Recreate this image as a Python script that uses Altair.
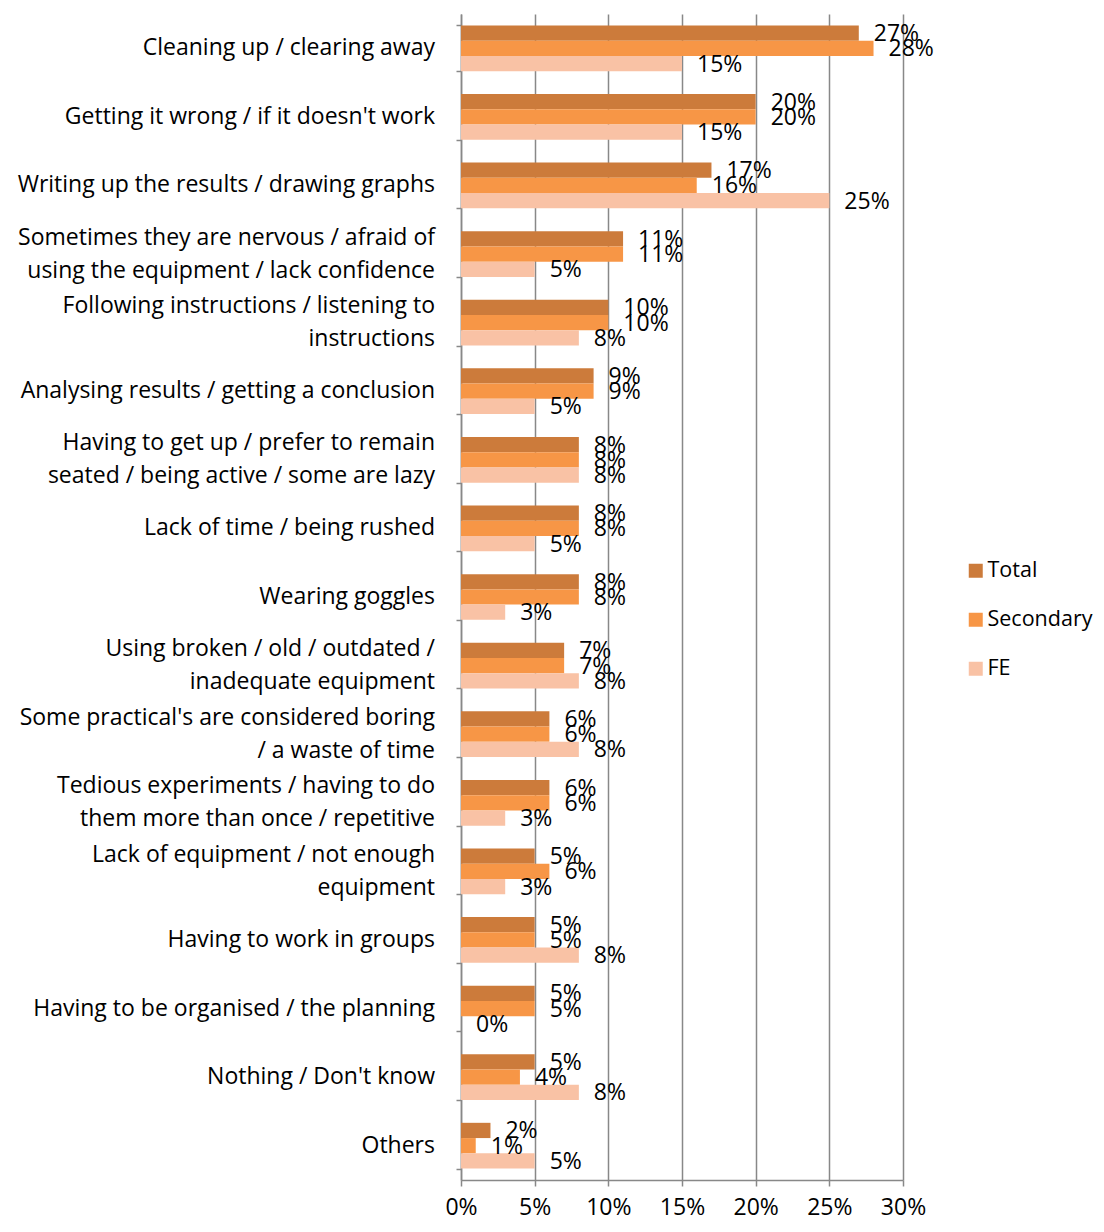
import altair as alt
import pandas as pd

categories = [
    "Cleaning up / clearing away",
    "Getting it wrong / if it doesn't work",
    "Writing up the results / drawing graphs",
    "Sometimes they are nervous / afraid of|using the equipment / lack confidence",
    "Following instructions / listening to|instructions",
    "Analysing results / getting a conclusion",
    "Having to get up / prefer to remain|seated / being active / some are lazy",
    "Lack of time / being rushed",
    "Wearing goggles",
    "Using broken / old / outdated /|inadequate equipment",
    "Some practical's are considered boring|/ a waste of time",
    "Tedious experiments / having to do|them more than once / repetitive",
    "Lack of equipment / not enough|equipment",
    "Having to work in groups",
    "Having to be organised / the planning",
    "Nothing / Don't know",
    "Others",
]
series = ["Total", "Secondary", "FE"]
total = [27, 20, 17, 11, 10, 9, 8, 8, 8, 7, 6, 6, 5, 5, 5, 5, 2]
secondary = [28, 20, 16, 11, 10, 9, 8, 8, 8, 7, 6, 6, 6, 5, 5, 4, 1]
fe = [15, 15, 25, 5, 8, 5, 8, 5, 3, 8, 8, 3, 3, 8, 0, 8, 5]
colors = ["#CC7B3B", "#F79646", "#F9C2A5"]

rows = []
for i, c in enumerate(categories):
    for s, vals in zip(series, [total, secondary, fe]):
        rows.append({"category": c, "series": s, "value": vals[i] / 100})
df = pd.DataFrame(rows)
cat_df = pd.DataFrame({"category": categories,
                       "nlines": [c.count("|") + 1 for c in categories]})

FONT = "Open Sans"
FS = 23

y = alt.Y("category:N", sort=categories, title=None,
          scale=alt.Scale(paddingInner=0.333, paddingOuter=0.1667),
          axis=alt.Axis(labels=False, tickBand="extent", tickSize=5,
                        tickColor="#888888", domainColor="#888888", grid=False))
yoff = alt.YOffset("series:N", sort=series)
x = alt.X("value:Q", title=None,
          scale=alt.Scale(domain=[0, 0.3], nice=False),
          axis=alt.Axis(format=".0%", values=[0, 0.05, 0.1, 0.15, 0.2, 0.25, 0.3],
                        labelFont=FONT, labelFontSize=FS, labelColor="#000000",
                        labelFlush=False, labelPadding=10, tickSize=6,
                        tickColor="#888888", domainColor="#888888", grid=True,
                        gridColor="#888888", gridWidth=1.5))

bars = alt.Chart(df).mark_bar().encode(
    y=y, yOffset=yoff, x=x,
    color=alt.Color("series:N", sort=series,
                    scale=alt.Scale(domain=series, range=colors),
                    legend=alt.Legend(title=None, orient="none", legendX=504,
                                      legendY=546, labelFont=FONT, labelFontSize=21.5,
                                      labelColor="#000000", symbolType="square",
                                      symbolSize=196, symbolStrokeWidth=0,
                                      rowPadding=26, labelOffset=1, padding=0,
                                      labelLimit=200)),
)
labels = alt.Chart(df).mark_text(align="left", baseline="middle", dx=15, dy=1,
                                 font=FONT, fontSize=FS, color="#000000").encode(
    y=y, yOffset=yoff, x=x,
    text=alt.Text("value:Q", format=".0%"),
)

def cat_layer(n, dy):
    return alt.Chart(cat_df).transform_filter(
        f"datum.nlines == {n}"
    ).transform_calculate(
        lines="split(datum.category, '|')"
    ).mark_text(align="right", baseline="middle", dy=dy, lineHeight=33,
                font=FONT, fontSize=FS, color="#000000").encode(
        y=alt.Y("category:N", sort=categories),
        x=alt.value(-26),
        text=alt.Text("lines:N"),
    )

chart = alt.layer(bars, labels, cat_layer(1, 0), cat_layer(2, -16.5)).properties(
    width=442, height=1166,
    autosize=alt.AutoSizeParams(type="none"),
    padding={"left": 453, "top": 6, "right": 190, "bottom": 44},
).configure_view(stroke=None).configure_axis(domainWidth=1.5, tickWidth=1.5)

chart.save("out.html", embed_options={"renderer": "svg", "actions": False})
